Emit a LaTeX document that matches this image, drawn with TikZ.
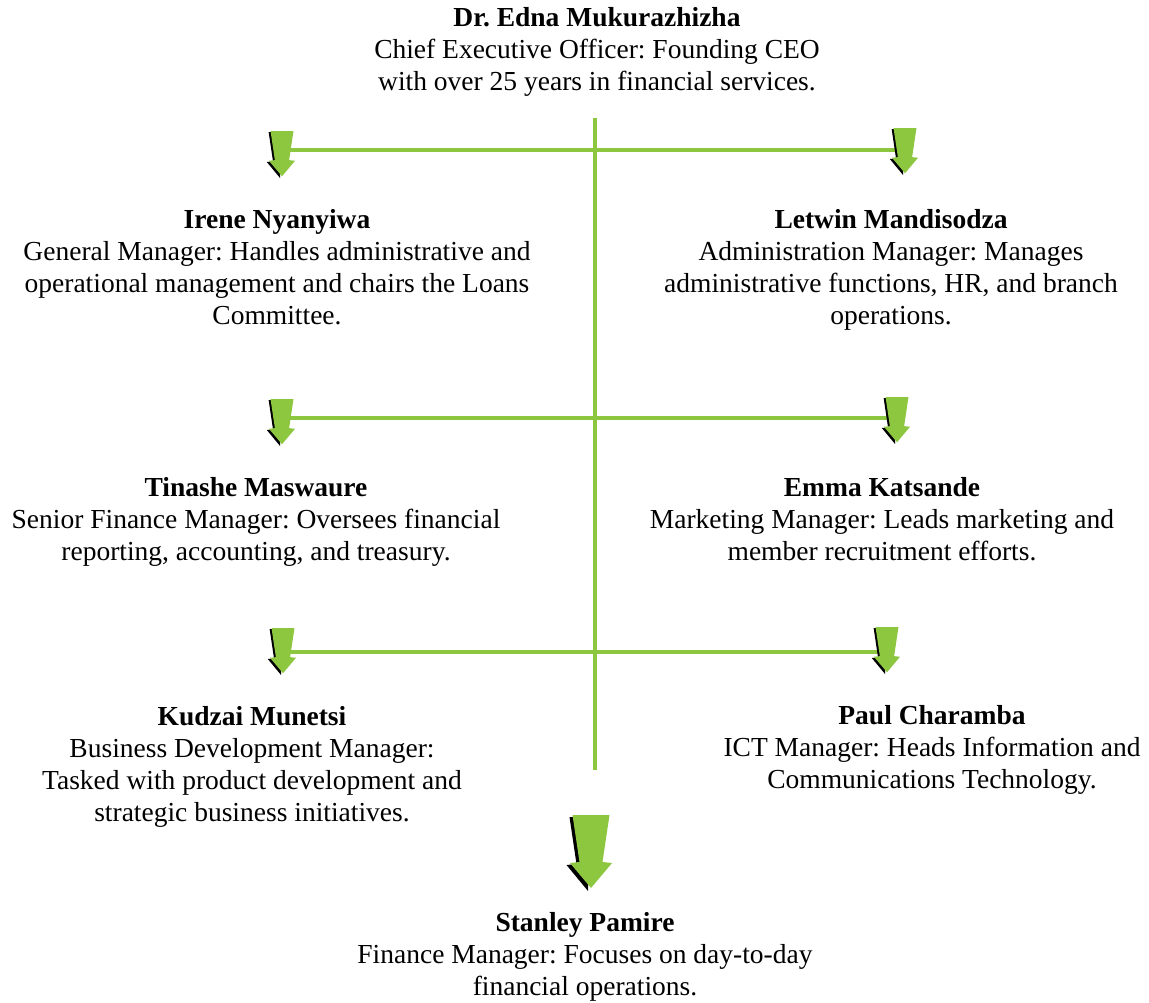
\documentclass[tikz,border=0pt]{standalone}
\usepackage{fontspec}
\setmainfont{Liberation Serif}
\frenchspacing
\definecolor{lime}{HTML}{8DC63F}
\tikzset{
  x=1pt, y=-1pt,
  box/.style={align=center, inner sep=0pt, font=\fontsize{27.5}{32.2}\selectfont, anchor=north},
  conn/.style={draw=lime, line width=4.5pt},
  garrow/.pic={
    \fill[black] (-21.5,2) -- (-14.5,49) -- (-24.5,50) -- (-3,76) -- (-3,2) -- cycle;
    \fill[lime] (-18.5,0) -- (18.5,0) -- (11.5,47) -- (21,48) -- (0,73) -- (-21,48) -- (-11.5,47) -- cycle;
  }
}
\begin{document}
\begin{tikzpicture}
\useasboundingbox (0,0) rectangle (1149,1002);
% spine
\coordinate (vtop) at (595,118);
\coordinate (vbot) at (595,770);
\draw[conn] (vtop) -- (vbot);
% branch ends
\coordinate (l1) at (282,150); \coordinate (r1) at (904,150);
\coordinate (l2) at (282,418); \coordinate (r2) at (896,418);
\coordinate (l3) at (283,652); \coordinate (r3) at (886,652);
\draw[conn] (l1) -- (r1);
\draw[conn] (l2) -- (r2);
\draw[conn] (l3) -- (r3);
% arrows
\pic[scale=0.62] at (282,131) {garrow};
\pic[scale=0.62] at (905,128) {garrow};
\pic[scale=0.62] at (282,399) {garrow};
\pic[scale=0.62] at (897,397) {garrow};
\pic[scale=0.62] at (283,628) {garrow};
\pic[scale=0.62] at (887,627) {garrow};
\pic at (591,815) {garrow};
% texts
\node[box] (ceo) at (597,7) {\textbf{Dr. Edna Mukurazhizha}\\Chief Executive Officer: Founding CEO\\with over 25 years in financial services.};
\node[box] (irene) at (277,209) {\textbf{Irene Nyanyiwa}\\General Manager: Handles administrative and\\operational management and chairs the Loans\\Committee.};
\node[box] (letwin) at (891,209) {\textbf{Letwin Mandisodza}\\Administration Manager: Manages\\administrative functions, HR, and branch\\operations.};
\node[box] (tinashe) at (256,477) {\textbf{Tinashe Maswaure}\\Senior Finance Manager: Oversees financial\\reporting, accounting, and treasury.};
\node[box] (emma) at (882,477) {\textbf{Emma Katsande}\\Marketing Manager: Leads marketing and\\member recruitment efforts.};
\node[box] (kudzai) at (252,706) {\textbf{Kudzai Munetsi}\\Business Development Manager:\\Tasked with product development and\\strategic business initiatives.};
\node[box] (paul) at (932,705) {\textbf{Paul Charamba}\\ICT Manager: Heads Information and\\Communications Technology.};
\node[box] (stanley) at (585,912) {\textbf{Stanley Pamire}\\Finance Manager: Focuses on day-to-day\\financial operations.};
\end{tikzpicture}
\end{document}
